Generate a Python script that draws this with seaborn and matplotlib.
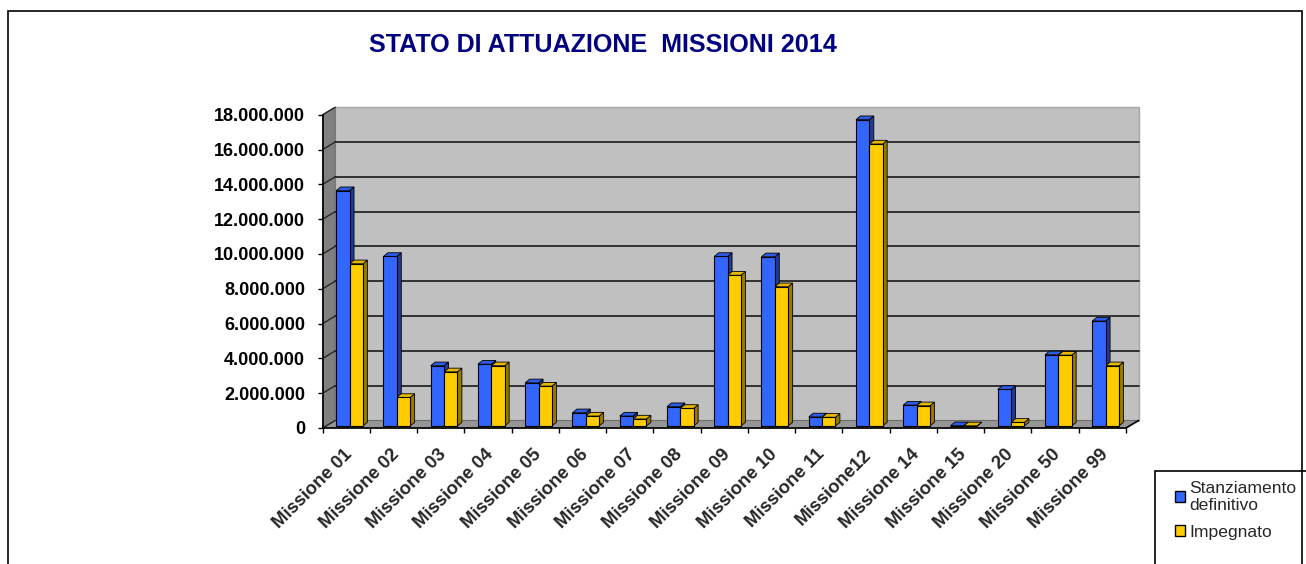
import matplotlib
matplotlib.use("Agg")
import matplotlib.pyplot as plt
from matplotlib.patches import Rectangle, Polygon, Patch
from matplotlib.transforms import ScaledTranslation
from matplotlib.ticker import FuncFormatter
import seaborn as sns
import pandas as pd
import numpy as np

# dati
missioni = ["Missione 01", "Missione 02", "Missione 03", "Missione 04", "Missione 05",
            "Missione 06", "Missione 07", "Missione 08", "Missione 09", "Missione 10",
            "Missione 11", "Missione12", "Missione 14", "Missione 15", "Missione 20",
            "Missione 50", "Missione 99"]
stanziamento = [13520000, 9740000, 3460000, 3550000, 2480000, 760000, 570000, 1110000,
                9740000, 9720000, 520000, 17600000, 1200000, 15000, 2100000, 4090000, 6030000]
impegnato = [9320000, 1640000, 3110000, 3460000, 2290000, 570000, 400000, 1010000,
             8660000, 8000000, 500000, 16200000, 1160000, 8000, 210000, 4070000, 3460000]
serie = ["Stanziamento definitivo", "Impegnato"]
y_ticks = list(range(0, 18000001, 2000000))

colori = {"Stanziamento definitivo": "#3366FF", "Impegnato": "#FFCC00"}
lati = {"Stanziamento definitivo": "#1F3C99", "Impegnato": "#997A00"}
tetti = {"Stanziamento definitivo": "#2E5CE6", "Impegnato": "#E6B800"}

df = pd.DataFrame({
    "missione": missioni * 2,
    "voce": [serie[0]] * len(missioni) + [serie[1]] * len(missioni),
    "valore": stanziamento + impegnato,
})

sns.set_style("white")
plt.rcParams["font.family"] = ["Liberation Sans", "DejaVu Sans"]

W, H = 1306, 564
fig = plt.figure(figsize=(W / 100, H / 100), dpi=100)
ax_l, ax_b, ax_w, ax_h = 322.7, 428, 803.3, 313.3
ax = fig.add_axes([ax_l / W, (H - ax_b) / H, ax_w / W, ax_h / H])
ax.patch.set_alpha(0)


def off(dx, dy):
    return ScaledTranslation(dx / 100, dy / 100, fig.dpi_scale_trans)


sns.barplot(data=df, x="missione", y="valore", hue="voce", hue_order=serie,
            palette=colori, saturation=1, width=0.565, edgecolor="black",
            linewidth=0.8, legend=False, ax=ax)
bars = list(ax.patches)

ax.set_xlim(-0.5, len(missioni) - 0.5)
ax.set_ylim(0, 18000000)

# conversione pixel -> dati
px_x = (len(missioni)) / ax_w
px_y = 18000000 / ax_h
DX, DY = 12.5, 7.5  # profondita pareti

# pareti 3D
dxa, dya = DX / ax_w, DY / ax_h
ax.add_patch(Rectangle((0, 0), 1, 1, transform=ax.transAxes + off(DX, DY),
                       fc="#C0C0C0", ec="#A6A6A6", lw=1, zorder=0, clip_on=False))
ax.add_patch(Polygon([(0, 0), (dxa, dya), (dxa, 1 + dya), (0, 1)], transform=ax.transAxes,
                     fc="#808080", ec="#6E6E6E", lw=0.8, zorder=0.2, clip_on=False))
ax.add_patch(Polygon([(0, 0), (1, 0), (1 + dxa, dya), (dxa, dya)], transform=ax.transAxes,
                     fc="#969696", ec="#6E6E6E", lw=0.8, zorder=0.2, clip_on=False))
for v in y_ticks[1:-1]:
    ax.plot([0, 1], [v, v], transform=ax.get_yaxis_transform() + off(DX, DY),
            color="#262626", lw=1.3, zorder=0.5, clip_on=False)
for v in y_ticks:
    ax.plot([0, dxa], [v, v + DY * px_y], transform=ax.get_yaxis_transform(),
            color="#262626", lw=1.0, zorder=0.5, clip_on=False)
ax.plot([1, 1 + dxa], [0, dya], transform=ax.transAxes, color="black", lw=1.2,
        zorder=0.6, clip_on=False)

# barre con effetto 3D
sx, sy = 3.2 * px_x, 2 * px_y
ddx, ddy = 4.5 * px_x, 3.7 * px_y
for i, p in enumerate(bars):
    nome = serie[0] if i < len(missioni) else serie[1]
    p.set_x(p.get_x() + sx)
    p.set_y(sy)
    p.set_zorder(3)
    x, y, w, h = p.get_x(), p.get_y(), p.get_width(), p.get_height()
    ax.add_patch(Polygon([(x + w, y), (x + w + ddx, y + ddy), (x + w + ddx, y + h + ddy), (x + w, y + h)],
                         fc=lati[nome], ec="black", lw=0.6, zorder=2.5, clip_on=False))
    ax.add_patch(Polygon([(x, y + h), (x + w, y + h), (x + w + ddx, y + h + ddy), (x + ddx, y + h + ddy)],
                         fc=tetti[nome], ec="black", lw=0.6, zorder=2.6, clip_on=False))

# assi
for s in ["top", "right"]:
    ax.spines[s].set_visible(False)
for s in ["left", "bottom"]:
    ax.spines[s].set_color("black")
    ax.spines[s].set_linewidth(1.2)
    ax.spines[s].set_zorder(4)

ax.set_yticks(y_ticks)
ax.yaxis.set_major_formatter(FuncFormatter(lambda v, _: f"{v:,.0f}".replace(",", ".")))
ax.tick_params(axis="y", left=True, length=3.6, width=1, pad=9, labelsize=13, colors="black")
for t in ax.get_yticklabels():
    t.set_fontweight("bold")

ax.set_xticks(range(len(missioni)))
ax.set_xticklabels(missioni, rotation=45, ha="right", va="top", rotation_mode="anchor",
                   fontsize=13.3, fontweight="bold")
ax.set_xticks(np.arange(-0.5, len(missioni), 1), minor=True)
ax.tick_params(axis="x", which="major", length=0, pad=13)
ax.tick_params(axis="x", which="minor", bottom=True, length=3.6, width=1, color="black")
for t in ax.get_xticklabels():
    t.set_transform(t.get_transform() + off(-3, 0))
ax.set_xlabel("")
ax.set_ylabel("")

# titolo
fig.text(602.5 / W, 1 - 45.5 / H, "STATO DI ATTUAZIONE  MISSIONI 2014", ha="center", va="center",
         fontsize=18.1, fontweight="bold", color="#000080")

# legenda
fig.add_artist(Rectangle((1155 / W, -0.05), 0.2, 0.05 + 1 - 470.7 / H, transform=fig.transFigure,
                         fill=False, ec="black", lw=1.2))
handles = [Patch(fc=colori[s], ec="black", lw=1) for s in serie]
fig.legend(handles, ["Stanziamento\ndefinitivo", "Impegnato"], loc="upper left",
           bbox_to_anchor=(1159 / W, 1 - 465 / H), frameon=False, fontsize=12.6,
           handlelength=0.56, handleheight=0.56, handletextpad=0.25, labelspacing=0.65)

# cornice
fig.add_artist(Rectangle((8 / W, -0.05), (1302 - 8) / W, 0.05 + 1 - 11 / H, transform=fig.transFigure,
                         fill=False, ec="black", lw=1.2))

fig.savefig("out.png", dpi=100)
